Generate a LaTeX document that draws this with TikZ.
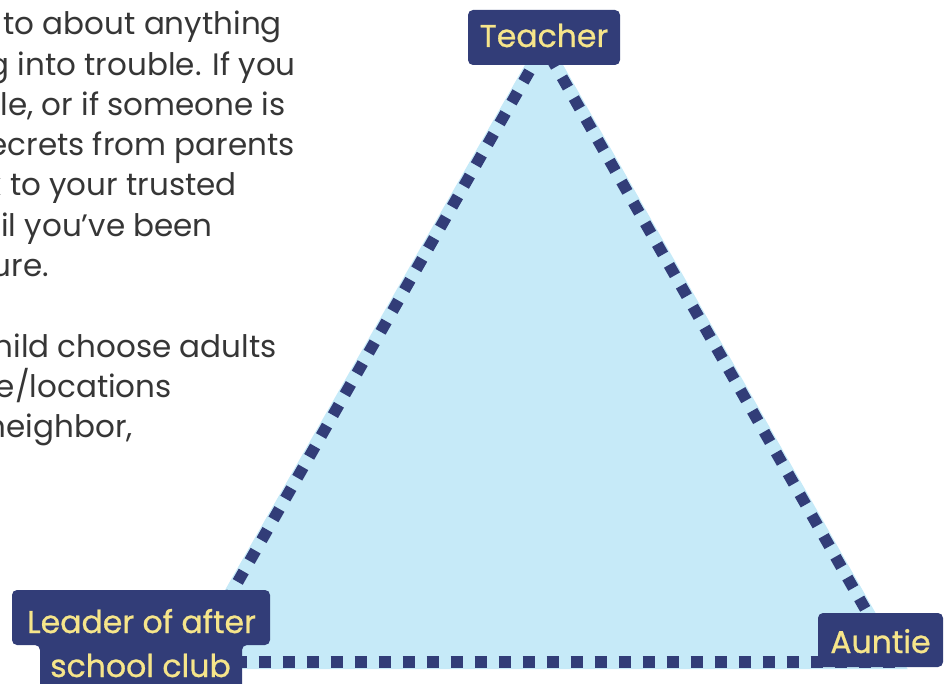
\documentclass[tikz,border=0pt]{standalone}
\usepackage{fontspec}
\setmainfont{Poppins}
\newfontfamily\bodyfont{Poppins}
\newfontfamily\labelfont{Poppins}[FakeBold=0.8]
\definecolor{navy}{HTML}{323D78}
\definecolor{trifill}{HTML}{C6EAF8}
\definecolor{lblyellow}{HTML}{F6E58A}
\definecolor{bodygray}{HTML}{363636}
\tikzset{
  bodyline/.style={anchor=base east, inner sep=0pt, text=bodygray, font=\bodyfont\fontsize{31}{31}\selectfont},
  lblbox/.style={fill=navy, rounded corners=5pt, inner sep=0pt, text=lblyellow, font=\labelfont\fontsize{31.5}{31.5}\selectfont},
  lbltext/.style={anchor=base, inner sep=0pt, text=lblyellow, font=\labelfont\fontsize{31.5}{31.5}\selectfont},
  slantdash/.style={navy, line width=11.5pt, dash pattern=on 12pt off 12pt},
  basedash/.style={navy, line width=12pt, dash pattern=on 12pt off 12pt, dash phase=5.3pt},
}
\begin{document}
\begin{tikzpicture}[x=1pt,y=-1pt]
\useasboundingbox (0,0) rectangle (949,684);
\clip (0,0) rectangle (949,684);
% body text (clipped at the left edge, as in the reference)
\node[bodyline] (l1) at (282,35) {k to about anything};
\node[bodyline] (l2) at (296,75.25) {g into trouble. If you};
\node[bodyline] (l3) at (286,115.5) {le, or if someone is};
\node[bodyline] (l4) at (295,155.75) {secrets from parents};
\node[bodyline] (l5) at (237,196) {k to your trusted};
\node[bodyline] (l6) at (213,236.25) {til you’ve been};
\node[bodyline] (l7) at (49,276.5) {sure.};
\node[bodyline] (l9) at (277,357) {child choose adults};
\node[bodyline] (l10) at (172,397.25) {e/locations};
\node[bodyline] (l11) at (133,437.5) {neighbor,};
% triangle
\coordinate (A) at (544,45.7);
\coordinate (B) at (192,662);
\coordinate (C) at (895.5,662);
\fill[trifill] (A) -- (B) -- (C) -- cycle;
\draw[trifill, line width=14pt, line join=miter] (A) -- (B) -- (C) -- cycle;
\draw[slantdash, dash phase=18.5pt] (A) -- (B);
\draw[slantdash, dash phase=11.7pt] (A) -- (C);
\draw[basedash] (B) -- (C);
% labels
\node[lblbox, minimum width=152pt, minimum height=55pt, text height=23pt, text depth=4pt] (teacher) at (544,37.5) {Teacher};
\node[lblbox, minimum width=125pt, minimum height=54pt, text height=26pt, text depth=-2pt] (auntie) at (880.5,640) {Auntie};
\path[fill=navy, rounded corners=5pt] (12,590) -- (270,590) -- (270,645) -- (242,645) -- (242,700) -- (40,700) -- (40,645) -- (12,645) -- cycle;
\node[lbltext] (leader1) at (141.5,633) {Leader of after};
\node[lbltext] (leader2) at (140.5,677) {school club};
\end{tikzpicture}
\end{document}
